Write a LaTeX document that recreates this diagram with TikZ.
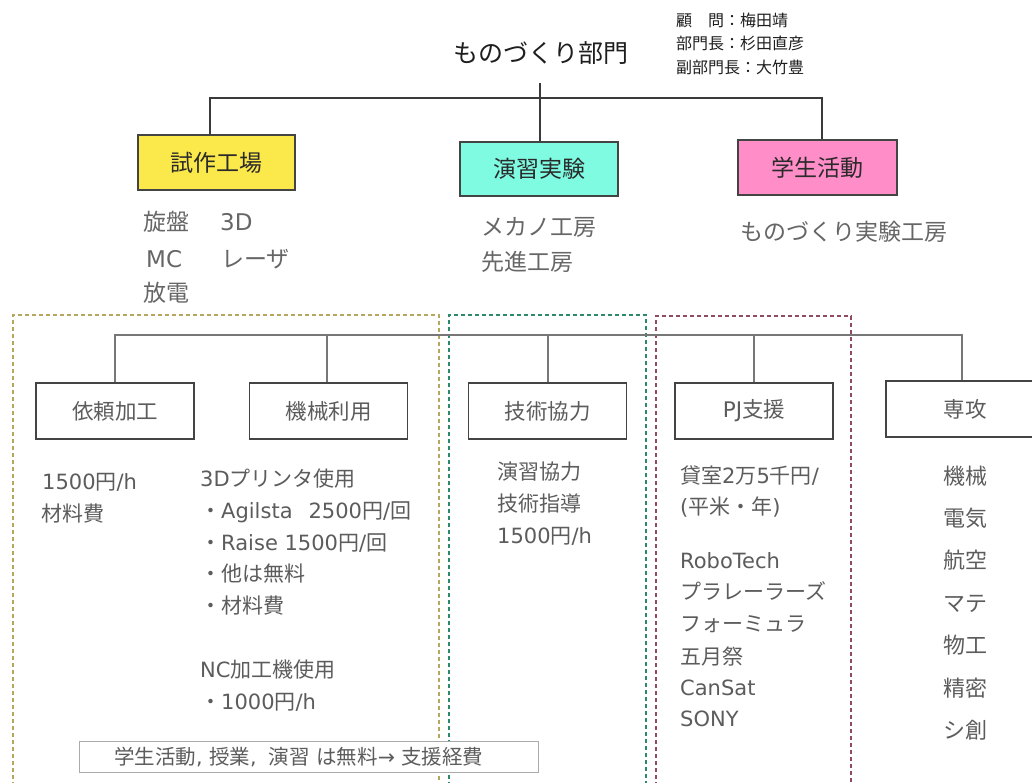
\documentclass[tikz,border=0pt]{standalone}
\usepackage{fontspec}
\setmainfont{DejaVu Sans}
\newfontfamily\cjkfont{Noto Sans CJK JP}
\XeTeXinterchartokenstate=1
\newXeTeXintercharclass\cjkcls
\newcount\cjkcc
\cjkcc="2E80
\loop \XeTeXcharclass\cjkcc=\cjkcls \ifnum\cjkcc<"9FFF \advance\cjkcc by 1 \repeat
\cjkcc="FF00
\loop \XeTeXcharclass\cjkcc=\cjkcls \ifnum\cjkcc<"FFEF \advance\cjkcc by 1 \repeat
\XeTeXinterchartoks 0 \cjkcls = {\begingroup\cjkfont}
\XeTeXinterchartoks 4095 \cjkcls = {\begingroup\cjkfont}
\XeTeXinterchartoks \cjkcls 0 = {\endgroup}
\XeTeXinterchartoks \cjkcls 4095 = {\endgroup}
\definecolor{titletext}{HTML}{1E1E1E}
\definecolor{boxtext}{HTML}{2A2A2A}
\definecolor{graytext}{HTML}{5C5C5C}
\definecolor{sidetext}{HTML}{666666}
\definecolor{boxline}{HTML}{444444}
\definecolor{yellowfill}{HTML}{FBE84A}
\definecolor{cyanfill}{HTML}{7FFBE2}
\definecolor{pinkfill}{HTML}{FF8DC8}
\definecolor{olivedash}{HTML}{B9A65E}
\definecolor{greendash}{HTML}{2C8A6B}
\definecolor{maroondash}{HTML}{8E4B62}
\definecolor{trunkline}{HTML}{3A3A3A}
\definecolor{branchline}{HTML}{777777}
\definecolor{noteline}{HTML}{AAAAAA}
\tikzset{
  topbox/.style={draw=boxline, line width=1.2pt, minimum width=157pt, minimum height=55pt,
    inner sep=0pt, font=\fontsize{23}{26}\selectfont, text=boxtext},
  subbox/.style={draw=boxline, fill=white, line width=1.2pt, minimum width=158pt, minimum height=56pt,
    inner sep=0pt, font=\fontsize{21.5}{26}\selectfont, text=graytext},
  sidelbl/.style={anchor=base west, inner sep=0pt, yshift=-8.6pt,
    font=\fontsize{23}{26}\selectfont, text=sidetext},
  bodylbl/.style={anchor=base west, inner sep=0pt, yshift=-7.8pt,
    font=\fontsize{21}{24}\selectfont, text=graytext},
  majorlbl/.style={anchor=base, inner sep=0pt, yshift=-8.2pt,
    font=\fontsize{22}{24}\selectfont, text=graytext},
  infolbl/.style={anchor=base west, inner sep=0pt, yshift=-6pt,
    font=\fontsize{16}{18}\selectfont, text=titletext},
  trunk/.style={draw=trunkline, line width=1.4pt},
  branch/.style={draw=branchline, line width=1.3pt},
  groupbox/.style={line width=2pt, dash pattern=on 4pt off 3pt},
  notebox/.style={draw=noteline, fill=white, line width=1pt, inner sep=0pt}
}
\begin{document}
\begin{tikzpicture}[x=1pt,y=-1pt]
\clip (0,0) rectangle (1032,782);
\fill[white] (0,0) rectangle (1032,782);

% title and info
\node[inner sep=0pt, font=\fontsize{25}{28}\selectfont, text=titletext] (title) at (541,53) {ものづくり部門};
\node[infolbl] (info1) at (676,20) {顧　問：梅田靖};
\node[infolbl] (info2) at (676,43.5) {部門長：杉田直彦};
\node[infolbl] (info3) at (676,67) {副部門長：大竹豊};

% top boxes
\node[topbox, fill=yellowfill] (shisaku) at (216.5,162.5) {試作工場};
\node[topbox, fill=cyanfill, minimum width=158pt, minimum height=54pt] (enshu) at (539,169) {演習実験};
\node[topbox, fill=pinkfill, minimum width=159pt] (gakusei) at (817.5,167.5) {学生活動};

% top tree
\coordinate (rootdrop) at (540,83);
\coordinate (tl) at (210,98);
\coordinate (tr) at (822,98);
\draw[trunk] (rootdrop) -- (rootdrop |- enshu.north);
\draw[trunk] (tl |- shisaku.north) -- (tl) -- (tr) -- (tr |- gakusei.north);

% texts under top boxes
\node[sidelbl] (s1) at (143,222) {旋盤};
\node[sidelbl] (s2) at (220,222) {3D};
\node[sidelbl] (s3) at (146,259) {MC};
\node[sidelbl] (s4) at (221,259) {レーザ};
\node[sidelbl] (s5) at (143,293) {放電};
\node[sidelbl] (e1) at (481,227) {メカノ工房};
\node[sidelbl] (e2) at (481,262) {先進工房};
\node[sidelbl] (g1) at (740,232) {ものづくり実験工房};

% dashed group boxes
\draw[groupbox, draw=olivedash] (13,800) -- (13,315) -- (439,315) -- (439,800);
\draw[groupbox, draw=greendash] (449,800) -- (449,315) -- (646,315) -- (646,800);
\draw[groupbox, draw=maroondash] (656,800) -- (656,316) -- (851,316) -- (851,800);

% second-level boxes
\node[subbox] (irai) at (115,411) {依頼加工};
\node[subbox] (kikai) at (328.5,411) {機械利用};
\node[subbox] (gijutsu) at (547.5,411) {技術協力};
\node[subbox] (pj) at (754,411) {PJ支援};
\node[subbox] (senko) at (965,409) {専攻};

% second-level tree
\coordinate (bl) at (115,335);
\coordinate (bk) at (327,335);
\coordinate (bg) at (548,335);
\coordinate (bp) at (754,335);
\coordinate (br) at (962,335);
\draw[branch] (irai.north) -- (bl) -- (br) -- (br |- senko.north);
\draw[branch] (bk) -- (bk |- kikai.north);
\draw[branch] (bg) -- (bg |- gijutsu.north);
\draw[branch] (bp) -- (bp |- pj.north);

% 依頼加工 column
\node[bodylbl] (i1) at (42,482) {1500円/h};
\node[bodylbl] (i2) at (41,514) {材料費};

% 機械利用 column
\node[bodylbl] (k1) at (200,479) {3Dプリンタ使用};
\node[bodylbl] (k2) at (200,511) {・Agilsta\hspace{16pt}2500円/回};
\node[bodylbl] (k3) at (200,543) {・Raise 1500円/回};
\node[bodylbl] (k4) at (200,574) {・他は無料};
\node[bodylbl] (k5) at (200,606) {・材料費};
\node[bodylbl] (k6) at (200,670) {NC加工機使用};
\node[bodylbl] (k7) at (200,702) {・1000円/h};

% 技術協力 column
\node[bodylbl] (j1) at (497,472) {演習協力};
\node[bodylbl] (j2) at (497,504) {技術指導};
\node[bodylbl] (j3) at (497,536) {1500円/h};

% PJ支援 column
\node[bodylbl] (p1) at (680,476) {貸室2万5千円/};
\node[bodylbl] (p2) at (680,507) {(平米・年)};
\node[bodylbl] (p3) at (680,561) {RoboTech};
\node[bodylbl] (p4) at (680,592) {プラレーラーズ};
\node[bodylbl] (p5) at (680,624) {フォーミュラ};
\node[bodylbl] (p6) at (680,657) {五月祭};
\node[bodylbl] (p7) at (680,688) {CanSat};
\node[bodylbl] (p8) at (680,719) {SONY};

% 専攻 column
\node[majorlbl] (m1) at (965,476) {機械};
\node[majorlbl] (m2) at (965,518) {電気};
\node[majorlbl] (m3) at (965,560) {航空};
\node[majorlbl] (m4) at (965,603) {マテ};
\node[majorlbl] (m5) at (965,645) {物工};
\node[majorlbl] (m6) at (965,688) {精密};
\node[majorlbl] (m7) at (965,730) {シ創};

% note
\node[notebox, minimum width=459pt, minimum height=31pt] (note) at (308.5,756.5) {};
\node[bodylbl, font=\fontsize{20.5}{22}\selectfont] (notetext) at (114,757) {学生活動, 授業,\hspace{12pt}演習 は無料→ 支援経費};
\end{tikzpicture}
\end{document}
